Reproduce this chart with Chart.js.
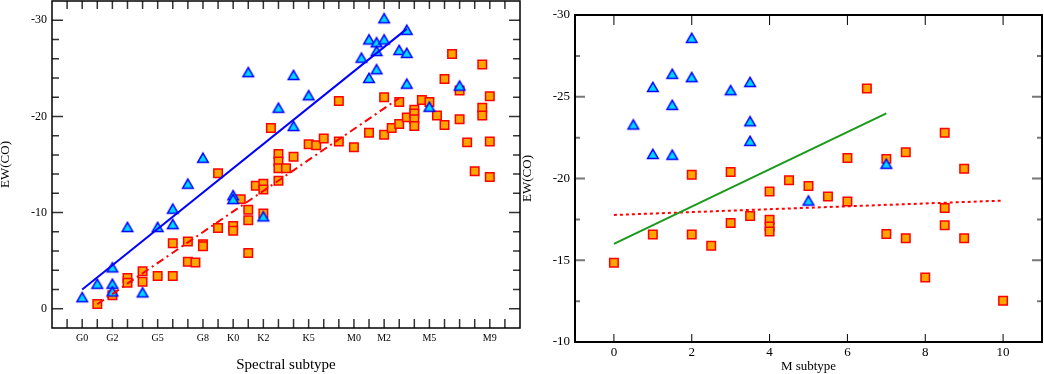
<!DOCTYPE html>
<html><head><meta charset="utf-8">
<script src="https://cdn.jsdelivr.net/npm/chart.js@4.4.0/dist/chart.umd.min.js"></script>
<style>
html,body{margin:0;padding:0;background:#fff;width:1044px;height:374px;overflow:hidden;}
#c1{position:absolute;left:0;top:0;}
#c2{position:absolute;left:521px;top:0;}
</style></head><body>
<canvas id="c1" width="521" height="374"></canvas>
<canvas id="c2" width="523" height="374"></canvas>
<script>
// ---------- Left panel data ----------
const xTickPos = [0, 2, 5, 8, 10, 12, 15, 18, 20, 23, 27];
const xTickLabels = ['G0','G2','G5','G8','K0','K2','K5','M0','M2','M5','M9'];
const leftYTicks = [-30, -20, -10, 0];

const leftTriX = [0,1,2,2,2,3,4,5,6,6,7,8,10,10,11,12,13,14,14,15,18.5,19,19,19.5,19.5,19.5,20,20,21,21.5,21.5,21.5,23,25];
const leftTriY = [-1.2,-2.6,-4.3,-2.6,-1.8,-8.5,-1.7,-8.5,-10.4,-8.8,-13.0,-15.7,-11.8,-11.4,-24.6,-9.6,-20.9,-24.3,-19.0,-22.2,-26.1,-28.0,-24.0,-27.7,-26.8,-24.9,-30.2,-28.0,-26.9,-29.0,-26.6,-23.4,-21.0,-23.2];

const leftSqX = [1,2,3,3,4,4,5,6,6,7,7,7.5,8,8,9,9,10,10,10.5,11,11,11,11.5,12,12,12,12.5,13,13,13,13,13.5,14,15,15.5,16,17,17,18,19,20,20,20.5,21,21,21.5,22,22,22,22,22.5,23,23.5,24,24,24.5,25,25,25.5,26,26.5,26.5,26.5,27,27,27];
const leftSqY = [-0.5,-1.4,-3.2,-2.7,-3.9,-2.8,-3.4,-3.4,-6.8,-7.0,-4.9,-4.8,-6.7,-6.5,-14.1,-8.4,-8.6,-8.1,-11.4,-10.3,-9.2,-5.8,-12.8,-13.0,-12.4,-9.9,-18.8,-16.1,-15.3,-14.6,-13.3,-14.6,-15.8,-17.1,-17.0,-17.7,-21.6,-17.4,-16.8,-18.3,-22.0,-18.1,-18.8,-21.5,-19.2,-19.9,-20.7,-20.3,-19.7,-19.0,-21.7,-21.5,-20.1,-23.9,-19.1,-26.5,-22.7,-19.7,-17.3,-14.3,-25.4,-20.9,-20.1,-22.1,-17.4,-13.7];

const leftBlueFitX = [0, 21.5];
const leftBlueFitY = [-2.0, -29.1];
const leftRedFitX = [1, 21];
const leftRedFitY = [-0.47, -21.9];

// ---------- Right panel data ----------
const rightXTicks = [0, 2, 4, 6, 8, 10];
const rightYTicks = [-30, -25, -20, -15, -10];

const rightTriX = [0.5,1,1,1.5,1.5,1.5,2,2,3,3.5,3.5,3.5,5,7];
const rightTriY = [-23.3,-25.6,-21.5,-26.4,-24.5,-21.45,-28.6,-26.2,-25.4,-25.9,-23.5,-22.3,-18.65,-20.9];

const rightSqX = [0,1,2,2,2.5,3,3,3.5,4,4,4,4,4.5,5,5.5,6,6,6.5,7,7,7.5,7.5,8,8.5,8.5,8.5,9,9,10];
const rightSqY = [-14.85,-16.57,-20.23,-16.57,-15.88,-20.4,-17.28,-17.7,-19.2,-17.47,-17.06,-16.76,-19.9,-19.54,-18.9,-21.25,-18.6,-25.5,-21.2,-16.6,-21.6,-16.35,-13.95,-22.8,-18.2,-17.14,-20.6,-16.35,-12.52];

const rightGreenFitX = [0, 7];
const rightGreenFitY = [-16.0, -23.98];
const rightRedFitX = [0, 10];
const rightRedFitY = [-17.77, -18.65];

// ---------- helpers ----------
const FONT = "'Liberation Serif', 'DejaVu Serif', serif";
const pts = (xs, ys) => xs.map((x, i) => ({x, y: ys[i]}));

function makeTriangle() {
  const c = document.createElement('canvas');
  c.width = 16; c.height = 16;
  const g = c.getContext('2d');
  g.beginPath();
  g.moveTo(8, 3.3);
  g.lineTo(13.3, 12.5);
  g.lineTo(2.7, 12.5);
  g.closePath();
  g.fillStyle = '#00d8ff';
  g.fill();
  g.lineWidth = 1.5;
  g.strokeStyle = '#0000ff';
  g.stroke();
  return c;
}
const triImg = makeTriangle();

function line(ctx, x1, y1, x2, y2) { ctx.moveTo(x1, y1); ctx.lineTo(x2, y2); }
const fitX = (h) => s => { s.height = h; s.paddingLeft = 0; s.paddingRight = 0; s.paddingTop = 0; s.paddingBottom = 0; };
const fitY = (w) => s => { s.width = w; s.paddingLeft = 0; s.paddingRight = 0; s.paddingTop = 0; s.paddingBottom = 0; };

const leftFrame = {
  id: 'leftFrame',
  beforeDatasetsDraw(chart) {
    const {ctx, chartArea: a, scales: {x, y}} = chart;
    ctx.save();
    ctx.strokeStyle = '#333';
    ctx.lineWidth = 1.5;
    ctx.beginPath();
    for (let v = -1; v <= 28; v++) {
      const p = x.getPixelForValue(v);
      line(ctx, p, a.bottom, p, a.bottom - 9);
      line(ctx, p, a.top, p, a.top + 8);
    }
    for (let v = -30; v <= 0; v += 2) {
      const p = y.getPixelForValue(v);
      const L = (v % 10 === 0) ? 11 : 7;
      line(ctx, a.left, p, a.left + L, p);
      line(ctx, a.right, p, a.right - L, p);
    }
    ctx.stroke();
    ctx.strokeStyle = '#000';
    ctx.lineWidth = 1.5;
    ctx.strokeRect(a.left, a.top, a.width, a.height);
    ctx.restore();
  }
};

const rightFrame = {
  id: 'rightFrame',
  beforeDatasetsDraw(chart) {
    const {ctx, chartArea: a, scales: {x, y}} = chart;
    ctx.save();
    ctx.strokeStyle = '#000';
    ctx.lineWidth = 1;
    ctx.beginPath();
    for (let v = 0; v <= 10; v += 2) {
      const p = x.getPixelForValue(v);
      line(ctx, p, a.bottom, p, a.bottom - 8);
      line(ctx, p, a.top, p, a.top + 10);
    }
    ctx.stroke();
    ctx.strokeStyle = '#777';
    ctx.lineWidth = 2;
    ctx.beginPath();
    for (let v = -30; v <= -10; v += 2.5) {
      const p = y.getPixelForValue(v);
      const L = (v % 5 === 0) ? 10 : 5;
      line(ctx, a.left, p, a.left + L, p);
      line(ctx, a.right, p, a.right - L, p);
    }
    ctx.stroke();
    ctx.strokeStyle = '#000';
    ctx.lineWidth = 2;
    ctx.strokeRect(a.left, a.top, a.width, a.height);
    ctx.restore();
  }
};

const common = {
  responsive: false,
  devicePixelRatio: 1,
  animation: false,
  events: [],
  plugins: { legend: { display: false }, tooltip: { enabled: false } }
};

// ---------- Left chart ----------
new Chart(document.getElementById('c1'), {
  type: 'scatter',
  data: {
    datasets: [
      { data: pts(leftBlueFitX, leftBlueFitY), showLine: true, borderColor: '#0000ff', borderWidth: 2, pointRadius: 0 },
      { data: pts(leftRedFitX, leftRedFitY), showLine: true, borderColor: '#ff0000', borderWidth: 2, borderDash: [8, 4, 2, 4], pointRadius: 0 },
      { data: pts(leftTriX, leftTriY), pointStyle: triImg, pointRadius: 6 },
      { data: pts(leftSqX, leftSqY), pointStyle: 'rect', pointRadius: 6, backgroundColor: '#ffa500', borderColor: '#ff0000', borderWidth: 1.5 }
    ]
  },
  options: Object.assign({}, common, {
    layout: { autoPadding: false, padding: { top: 1, right: 1, left: 0, bottom: 0 } },
    scales: {
      x: {
        type: 'linear', min: -2, max: 29,
        afterBuildTicks: s => { s.ticks = xTickPos.map(v => ({value: v})); },
        afterFit: fitX(46),
        grid: { display: false, drawTicks: false },
        border: { display: false },
        ticks: {
          autoSkip: false, maxRotation: 0, minRotation: 0, padding: 4, color: '#000',
          font: { family: FONT, size: 10 },
          callback: (v, i) => xTickLabels[i]
        },
        title: { display: true, text: 'Spectral subtype', color: '#000', font: { family: FONT, size: 15 }, padding: 0 }
      },
      y: {
        type: 'linear', reverse: true, min: -32, max: 2,
        afterBuildTicks: s => { s.ticks = leftYTicks.map(v => ({value: v})); },
        afterFit: fitY(52),
        grid: { display: false, drawTicks: false },
        border: { display: false },
        ticks: { padding: 5, color: '#000', font: { family: FONT, size: 12 }, callback: v => String(v) },
        title: { display: true, text: 'EW(CO)', color: '#000', font: { family: FONT, size: 13, lineHeight: 1 }, padding: { top: -1, bottom: 0 } }
      }
    }
  }),
  plugins: [leftFrame]
});

// ---------- Right chart ----------
new Chart(document.getElementById('c2'), {
  type: 'scatter',
  data: {
    datasets: [
      { data: pts(rightGreenFitX, rightGreenFitY), showLine: true, borderColor: '#1a9a1a', borderWidth: 2, pointRadius: 0 },
      { data: pts(rightRedFitX, rightRedFitY), showLine: true, borderColor: '#ff0000', borderWidth: 2, borderDash: [3, 3], pointRadius: 0 },
      { data: pts(rightTriX, rightTriY), pointStyle: triImg, pointRadius: 6 },
      { data: pts(rightSqX, rightSqY), pointStyle: 'rect', pointRadius: 6, backgroundColor: '#ffa500', borderColor: '#ff0000', borderWidth: 1.5 }
    ]
  },
  options: Object.assign({}, common, {
    layout: { autoPadding: false, padding: { top: 15, right: 2, left: 0, bottom: 0 } },
    scales: {
      x: {
        type: 'linear', min: -1, max: 11,
        afterBuildTicks: s => { s.ticks = rightXTicks.map(v => ({value: v})); },
        afterFit: fitX(32),
        grid: { display: false, drawTicks: false },
        border: { display: false },
        ticks: { autoSkip: false, maxRotation: 0, minRotation: 0, padding: 3, color: '#000', font: { family: FONT, size: 13 }, callback: v => String(v) },
        title: { display: true, text: 'M subtype', color: '#000', font: { family: FONT, size: 13 }, padding: 0 }
      },
      y: {
        type: 'linear', reverse: true, min: -30, max: -10,
        afterBuildTicks: s => { s.ticks = rightYTicks.map(v => ({value: v})); },
        afterFit: fitY(54),
        grid: { display: false, drawTicks: false },
        border: { display: false },
        ticks: { padding: 5, color: '#000', font: { family: FONT, size: 13 }, callback: v => String(v) },
        title: { display: true, text: 'EW(CO)', color: '#000', font: { family: FONT, size: 13, lineHeight: 1 }, padding: 0 }
      }
    }
  }),
  plugins: [rightFrame]
});
</script>
</body></html>
